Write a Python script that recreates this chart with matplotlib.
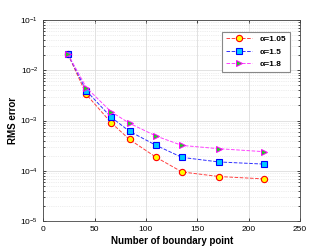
import numpy as np
import matplotlib
matplotlib.use('Agg')
import matplotlib.pyplot as plt
from matplotlib.ticker import LogLocator, NullFormatter

# boundary points and RMS errors for each alpha
points = [24, 42, 66, 84, 110, 135, 171, 215]
err_105 = [0.021, 0.0033, 9.1e-4, 4.2e-4, 1.85e-4, 9.5e-5, 7.7e-5, 6.9e-5]
err_15 = [0.021, 0.0039, 1.17e-3, 6.1e-4, 3.2e-4, 1.85e-4, 1.5e-4, 1.36e-4]
err_18 = [0.021, 0.0045, 1.5e-3, 8.8e-4, 4.9e-4, 3.2e-4, 2.75e-4, 2.4e-4]
labels = ['\u03b1=1.05', '\u03b1=1.5', '\u03b1=1.8']

plt.rcParams['font.family'] = ['Liberation Sans', 'DejaVu Sans']
plt.rcParams['font.size'] = 6

fig = plt.figure(figsize=(3.32, 2.49), dpi=100)
ax = fig.add_axes([0.13, 0.112, 0.774, 0.808])

ax.semilogy(points, err_105, '--o', color='#ff4040', lw=0.7, ms=4.5,
            mfc='yellow', mec='red', mew=0.8, label=labels[0])
ax.semilogy(points, err_15, '--s', color='#3030ff', lw=0.7, ms=4,
            mfc='#00ccff', mec='blue', mew=0.8, label=labels[1])
ax.semilogy(points, err_18, '-->', color='#ff40ff', lw=0.7, ms=4.5,
            mfc='#22cc22', mec='magenta', mew=0.7, label=labels[2])

ax.set_xlim(0, 250)
ax.set_ylim(1e-5, 1e-1)
ax.set_xticks([0, 50, 100, 150, 200, 250])
ax.yaxis.set_major_locator(LogLocator(base=10, numticks=10))
ax.yaxis.set_minor_locator(LogLocator(base=10, subs=np.arange(2, 10), numticks=10))
ax.yaxis.set_minor_formatter(NullFormatter())

ax.grid(True, which='major', color='#dddddd', lw=0.6)
ax.grid(True, which='minor', axis='y', color='#dddddd', lw=0.5, ls=':')
ax.tick_params(which='both', direction='in', top=True, right=True,
               length=2, width=0.5, labelsize=6)
ax.tick_params(which='minor', length=1.2)
for s in ax.spines.values():
    s.set_linewidth(0.6)
    s.set_color('#444444')

ax.set_xlabel('Number of boundary point', fontsize=7, fontweight='bold', labelpad=2)
ax.set_ylabel('RMS error', fontsize=7, fontweight='bold', labelpad=2)

leg = ax.legend(loc='upper right', bbox_to_anchor=(0.975, 0.963),
                fancybox=False, framealpha=1, edgecolor='#888888',
                handlelength=3.2, borderpad=0.45, labelspacing=0.55,
                prop={'weight': 'bold', 'size': 6})
leg.get_frame().set_linewidth(0.8)

fig.savefig('out.png', dpi=100)
